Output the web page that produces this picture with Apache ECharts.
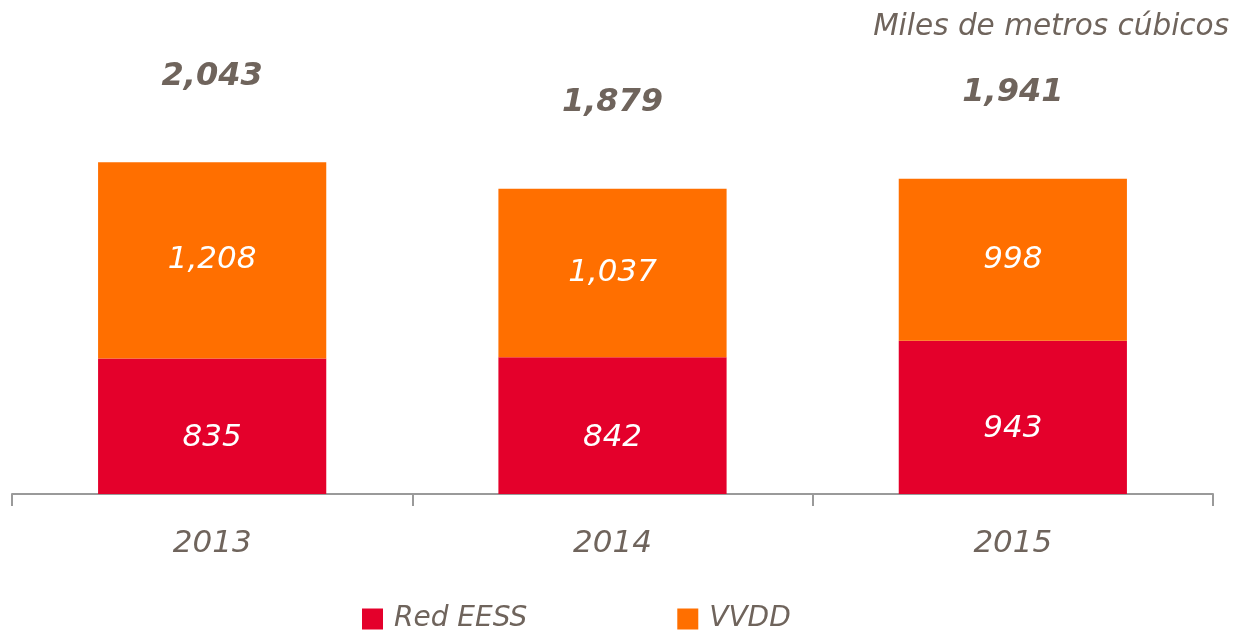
<!DOCTYPE html>
<html>
<head>
<meta charset="utf-8">
<script src="https://cdn.jsdelivr.net/npm/echarts@6/dist/echarts.min.js"></script>
<style>
  html, body { margin: 0; padding: 0; background: #fff; }
  #chart { width: 1238px; height: 630px; }
</style>
</head>
<body>
<div id="chart"></div>
<script>
// data
const years = ['2013', '2014', '2015'];
const redEESS = [835, 842, 943];
const vvdd = [1208, 1037, 998];
const totals = [2043, 1879, 1941];

const textColor = '#6f645c';
const fontFam = '"DejaVu Sans", sans-serif';
const fmt = (v) => v.toLocaleString('en-US');

const myChart = echarts.init(document.getElementById('chart'), null, { renderer: 'canvas' });

const option = {
  animation: false,
  title: {
    text: 'Miles de metros cúbicos',
    right: 4,
    top: 7,
    textStyle: { fontFamily: fontFam, fontStyle: 'italic', fontWeight: 'normal', fontSize: 29.5, color: textColor }
  },
  legend: {
    left: 357,
    top: 600,
    itemWidth: 21,
    itemHeight: 21,
    itemGap: 150,
    icon: 'rect',
    data: ['Red EESS', 'VVDD'],
    textStyle: { fontFamily: fontFam, fontStyle: 'italic', fontSize: 28, color: textColor, padding: [0, 0, 0, 6] }
  },
  grid: { left: 12, right: 25, top: 88, bottom: 136, containLabel: false },
  xAxis: {
    type: 'category',
    data: years,
    axisLine: { lineStyle: { color: '#9a9a9a', width: 2 } },
    axisTick: { show: true, length: 12, interval: 0, lineStyle: { color: '#9a9a9a', width: 2 } },
    axisLabel: { margin: 34, fontFamily: fontFam, fontStyle: 'italic', fontSize: 31, color: textColor }
  },
  yAxis: {
    type: 'value',
    min: 0,
    max: 2500,
    show: false,
    splitLine: { show: false }
  },
  series: [
    {
      name: 'Red EESS',
      type: 'bar',
      stack: 'total',
      barWidth: '57%',
      data: redEESS,
      itemStyle: { color: '#e4002b' },
      label: {
        show: true, position: 'inside', offset: [0, 12],
        fontFamily: fontFam, fontStyle: 'italic', fontSize: 31, color: '#fff',
        formatter: (p) => fmt(p.value)
      }
    },
    {
      name: 'VVDD',
      type: 'bar',
      stack: 'total',
      data: vvdd,
      itemStyle: { color: '#ff6f00' },
      label: {
        show: true, position: 'inside',
        fontFamily: fontFam, fontStyle: 'italic', fontSize: 31, color: '#fff',
        formatter: (p) => fmt(p.value)
      }
    },
    {
      name: 'Total',
      type: 'bar',
      stack: 'total',
      data: totals.map(() => 0),
      itemStyle: { color: 'transparent' },
      label: {
        show: true, position: 'top', distance: 70,
        fontFamily: fontFam, fontStyle: 'italic', fontWeight: 'bold', fontSize: 32, color: textColor,
        formatter: (p) => fmt(totals[p.dataIndex])
      }
    }
  ]
};

myChart.setOption(option);
</script>
</body>
</html>
